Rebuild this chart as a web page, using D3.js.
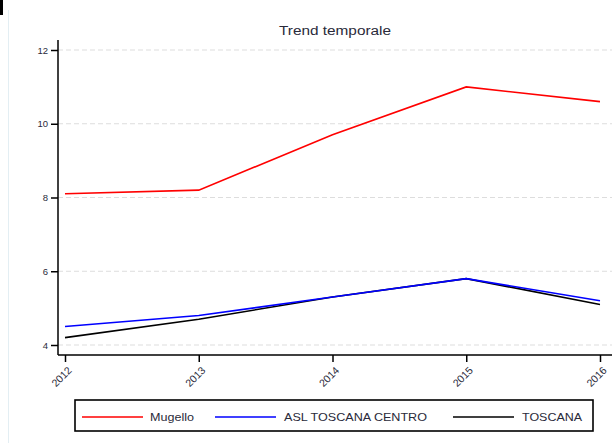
<!DOCTYPE html>
<html><head><meta charset="utf-8">
<script src="https://cdn.jsdelivr.net/npm/d3@7"></script>
<style>body{margin:0;background:#fff}svg{display:block}text{font-family:"Liberation Sans",Arial,sans-serif}</style>
</head><body><svg id="c" width="616" height="443"></svg>
<script>
const years = [2012, 2013, 2014, 2015, 2016];
const mugello = [8.1, 8.2, 9.7, 11.0, 10.6];
const aslToscanaCentro = [4.5, 4.8, 5.3, 5.8, 5.2];
const toscana = [4.2, 4.7, 5.3, 5.8, 5.1];
const yTicks = [4, 6, 8, 10, 12];
const seriesNames = ["Mugello", "ASL TOSCANA CENTRO", "TOSCANA"];
const seriesColors = ["#ff0000", "#0000ff", "#000000"];

const svg = d3.select("#c");
const x = d3.scaleLinear().domain([2012, 2016]).range([65, 600]);
const y = d3.scaleLinear().domain([4, 12]).range([345, 50]);
const pLeft = 58, pRight = 612, pTop = 40, pBottom = 355;

// page decorations
svg.append("rect").attr("x",0).attr("y",0).attr("width",3).attr("height",15).attr("fill","#000");
svg.append("line").attr("x1",8.5).attr("x2",8.5).attr("y1",10).attr("y2",443).attr("stroke","#e3eef3").attr("stroke-width",1);

// title
svg.append("text").attr("x",335).attr("y",35).attr("text-anchor","middle").attr("font-size",12.5)
  .attr("textLength",112).attr("lengthAdjust","spacingAndGlyphs").attr("fill","#2a2a3a").text("Trend temporale");

// grid
svg.append("g").selectAll("line").data(yTicks).join("line")
  .attr("x1",pLeft).attr("x2",pRight).attr("y1",d=>y(d)).attr("y2",d=>y(d))
  .attr("stroke","#ddd").attr("stroke-width",1).attr("stroke-dasharray","5,3");

// y axis
const ya = svg.append("g").attr("transform",`translate(${pLeft},0)`)
  .call(d3.axisLeft(y).tickValues(yTicks).tickSize(7).tickPadding(3).tickFormat(d3.format("d")));
ya.select(".domain").remove();
ya.selectAll("line").attr("stroke","#000").attr("stroke-width",1.5);
ya.selectAll("text").attr("font-size",9.5).attr("fill","#2a2a3a");
svg.append("line").attr("x1",pLeft).attr("x2",pLeft).attr("y1",pTop).attr("y2",pBottom).attr("stroke","#000").attr("stroke-width",1.5);

// x axis
const xa = svg.append("g").attr("transform",`translate(0,${pBottom})`)
  .call(d3.axisBottom(x).tickValues(years).tickSize(7).tickFormat(d3.format("d")));
xa.select(".domain").remove();
xa.selectAll("line").attr("stroke","#000").attr("stroke-width",1.5);
xa.selectAll("text").attr("font-size",10.5).attr("fill","#2a2a3a")
  .attr("text-anchor","end").attr("dy",null).attr("y",0)
  .attr("transform","translate(7,16) rotate(-45)");
svg.append("line").attr("x1",pLeft).attr("x2",pRight).attr("y1",pBottom).attr("y2",pBottom).attr("stroke","#000").attr("stroke-width",1.5);

// lines
const data = [mugello, aslToscanaCentro, toscana];
const line = d3.line().x((d,i)=>x(years[i])).y(d=>y(d));
[2,1,0].forEach(k=>{
  svg.append("path").attr("d",line(data[k])).attr("fill","none")
    .attr("stroke",seriesColors[k]).attr("stroke-width",1.6);
});

// legend
svg.append("rect").attr("x",75).attr("y",400).attr("width",518).attr("height",31)
  .attr("fill","#fff").attr("stroke","#000").attr("stroke-width",1.6);
const lx = [82, 215, 453];
const tx = [150, 284, 522];
const tl = [44, 143, 60];
const g = svg.append("g").selectAll("g").data(seriesNames).join("g");
g.append("line").attr("x1",(d,i)=>lx[i]).attr("x2",(d,i)=>lx[i]+61).attr("y1",417).attr("y2",417)
  .attr("stroke",(d,i)=>seriesColors[i]).attr("stroke-width",1.6);
g.append("text").attr("x",(d,i)=>tx[i]).attr("y",421).attr("font-size",10.5)
  .attr("textLength",(d,i)=>tl[i]).attr("lengthAdjust","spacingAndGlyphs")
  .attr("fill","#2a2a3a").text(d=>d);
</script></body></html>
